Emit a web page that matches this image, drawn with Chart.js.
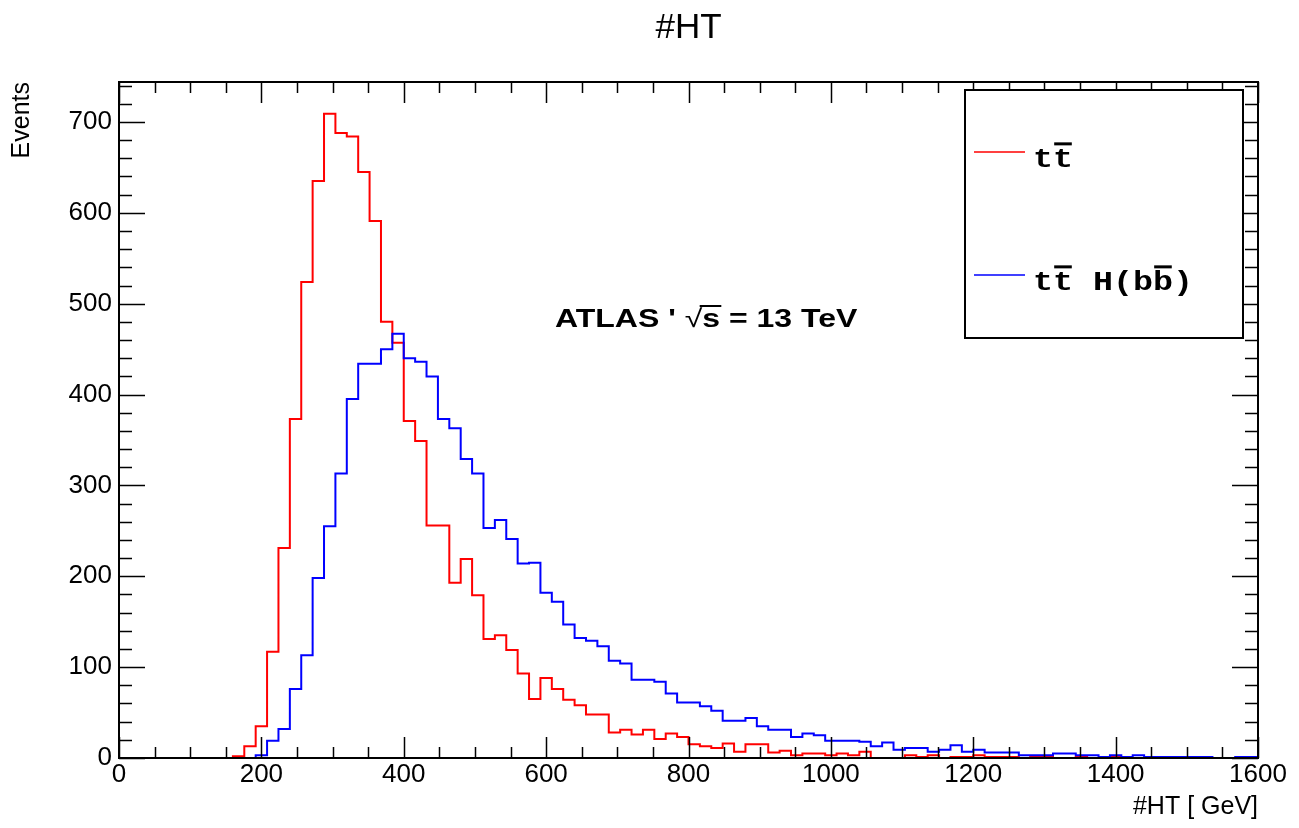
<!DOCTYPE html>
<html>
<head>
<meta charset="utf-8">
<script src="https://cdn.jsdelivr.net/npm/chart.js@4.4.0/dist/chart.umd.min.js"></script>
<style>
  html, body { margin: 0; padding: 0; background: #fff; }
</style>
</head>
<body>
<canvas id="ht-chart" width="1299" height="828"></canvas>
<script>
// histogram binning: 100 bins of 16 GeV from 0 to 1600
const binStart = 0;
const binWidth = 16;

const seriesNames = ['tt\u0304', 'tt\u0304 H(bb\u0304)'];
const seriesColors = ['#ff0000', '#0000ff'];

// tt (red)
const ttbar = [
    0, 0, 0, 0, 0, 0, 0, 0, 0, 0,
    2, 13, 35, 117, 231, 373, 524, 635, 709, 688,
    684, 645, 591, 480, 457, 371, 349, 256, 256, 193,
    219, 179, 131, 135, 119, 93, 65, 88, 76, 64,
    58, 48, 48, 28, 31, 26, 31, 21, 27, 23,
    15, 13, 11, 16, 7, 15, 15, 6, 8, 3,
    5, 5, 3, 5, 3, 7, 0, 0, 0, 3,
    1, 3, 0, 1, 1, 3, 1, 1, 1, 0,
    1, 1, 0, 0, 1, 0, 0, 1, 0, 0,
    0, 0, 0, 0, 1, 0, 0, 0, 0, 0
];

// ttH(bb) (blue)
const ttH = [
    0, 0, 0, 0, 0, 0, 0, 0, 0, 0,
    0, 0, 3, 19, 32, 76, 113, 198, 255, 313,
    395, 434, 434, 450, 467, 440, 436, 420, 373, 363,
    329, 313, 253, 262, 241, 214, 215, 182, 172, 147,
    132, 129, 123, 107, 104, 86, 86, 84, 71, 61,
    61, 57, 52, 41, 41, 44, 35, 31, 31, 23,
    27, 25, 19, 19, 19, 18, 13, 17, 9, 11,
    11, 7, 9, 14, 7, 9, 6, 6, 6, 3,
    3, 3, 5, 5, 3, 3, 1, 3, 1, 3,
    1, 1, 1, 1, 1, 1, 0, 0, 1, 1
];

const xTickValues = [0, 200, 400, 600, 800, 1000, 1200, 1400, 1600];
const yTickValues = [0, 100, 200, 300, 400, 500, 600, 700];
const xMax = 1600;
const yMax = 744;

// left bin edges + closing point, drawn as steps
function histPoints(counts) {
    const pts = counts.map((c, i) => ({x: binStart + i * binWidth, y: c}));
    pts.push({x: binStart + counts.length * binWidth, y: counts[counts.length - 1]});
    return pts;
}

// text with U+0304 drawn as a bar over the previous glyph
function drawBarText(ctx, text, x, y, size, sx) {
    ctx.save();
    ctx.translate(x, y);
    ctx.scale(sx, 1);
    let cx = 0, px = 0, pw = 0;
    for (const ch of text) {
        if (ch === '\u0304') {
            ctx.fillRect(px + 1, -size * 0.88, pw - 2, 3);
            continue;
        }
        ctx.fillText(ch, cx, 0);
        px = cx;
        pw = ctx.measureText(ch).width;
        cx += pw;
    }
    ctx.restore();
}

const rootFrame = {
    id: 'rootFrame',
    afterDatasetsDraw(chart) {
        const {ctx, chartArea: a, scales: {x, y}} = chart;
        ctx.save();
        ctx.strokeStyle = '#000';
        ctx.lineWidth = 1.5;
        ctx.beginPath();
        for (let v = 0; v <= xMax; v += 50) {
            const px = Math.round(x.getPixelForValue(v)) + 0.5;
            const len = v % 200 === 0 ? 21 : 11;
            ctx.moveTo(px, a.bottom); ctx.lineTo(px, a.bottom - len);
            ctx.moveTo(px, a.top); ctx.lineTo(px, a.top + len);
        }
        for (let v = 0; v <= yMax; v += 20) {
            const py = Math.round(y.getPixelForValue(v)) + 0.5;
            const len = v % 100 === 0 ? 26 : 13;
            ctx.moveTo(a.left, py); ctx.lineTo(a.left + len, py);
            ctx.moveTo(a.right, py); ctx.lineTo(a.right - len, py);
        }
        ctx.stroke();
        ctx.lineWidth = 2;
        ctx.strokeRect(a.left, a.top, a.right - a.left, a.bottom - a.top);

        // legend box
        ctx.fillStyle = '#fff';
        ctx.fillRect(965, 90, 278, 248);
        ctx.strokeRect(965, 90, 278, 248);
        const rows = [152, 275];
        ctx.font = 'bold 28px "Liberation Mono", monospace';
        ctx.textBaseline = 'alphabetic';
        rows.forEach((ly, i) => {
            ctx.strokeStyle = seriesColors[i];
            ctx.lineWidth = 1.5;
            ctx.beginPath();
            ctx.moveTo(974, ly); ctx.lineTo(1025, ly);
            ctx.stroke();
            ctx.fillStyle = '#000';
            drawBarText(ctx, seriesNames[i], 1033, ly + 15, 28, 1.19);
        });

        // ATLAS label
        ctx.fillStyle = '#000';
        ctx.font = 'bold 25px "Liberation Sans", Arial, sans-serif';
        ctx.save();
        ctx.translate(555, 327);
        ctx.scale(1.28, 1);
        const pre = "ATLAS ' ";
        ctx.fillText(pre, 0, 0);
        let cx = ctx.measureText(pre).width;
        ctx.font = '25px "Liberation Sans", Arial, sans-serif';
        ctx.fillText('\u221A', cx, 0);
        cx += ctx.measureText('\u221A').width;
        ctx.font = 'bold 25px "Liberation Sans", Arial, sans-serif';
        ctx.fillText('s', cx, 0);
        const sw = ctx.measureText('s').width;
        ctx.fillRect(cx - 2, -22, sw + 3, 2);
        cx += sw;
        ctx.fillText(' = 13 TeV', cx, 0);
        ctx.restore();
        ctx.restore();
    }
};

const font = '"Liberation Sans", Arial, Helvetica, sans-serif';

const htChart = new Chart(document.getElementById('ht-chart'), {
    type: 'line',
    data: {
        datasets: [{
            label: seriesNames[0],
            data: histPoints(ttbar),
            borderColor: seriesColors[0],
            borderWidth: 2,
            stepped: 'before',
            pointRadius: 0,
            fill: false,
            order: 1
        }, {
            label: seriesNames[1],
            data: histPoints(ttH),
            borderColor: seriesColors[1],
            borderWidth: 2,
            stepped: 'before',
            pointRadius: 0,
            fill: false,
            order: 0
        }]
    },
    options: {
        responsive: false,
        animation: false,
        layout: {
            padding: {left: 0, right: 41, top: 0, bottom: 0}
        },
        plugins: {
            legend: {display: false},
            tooltip: {enabled: false},
            title: {
                display: true,
                fullSize: false,
                text: '#HT',
                color: '#000',
                font: {family: font, size: 35, weight: 'normal'},
                padding: {top: 7.5, bottom: 32.5}
            }
        },
        scales: {
            x: {
                type: 'linear',
                min: 0,
                max: xMax,
                afterBuildTicks: scale => { scale.ticks = xTickValues.map(v => ({value: v})); },
                afterFit: scale => { scale.height = 70; },
                grid: {drawOnChartArea: false, drawTicks: false},
                border: {display: false},
                ticks: {
                    color: '#000', padding: 1, maxRotation: 0,
                    font: {family: font, size: 26},
                    callback: v => String(v)
                },
                title: {
                    display: true,
                    text: '#HT [ GeV]',
                    align: 'end',
                    color: '#000',
                    font: {family: font, size: 25},
                    padding: {top: 0, bottom: 6}
                }
            },
            y: {
                min: 0,
                max: yMax,
                afterBuildTicks: scale => { scale.ticks = yTickValues.map(v => ({value: v})); },
                afterFit: scale => { scale.width = 119; },
                grid: {drawOnChartArea: false, drawTicks: false},
                border: {display: false},
                ticks: {
                    color: '#000', padding: 7,
                    font: {family: font, size: 26},
                    callback: v => String(v)
                },
                title: {
                    display: true,
                    text: 'Events',
                    align: 'end',
                    color: '#000',
                    font: {family: font, size: 25},
                    padding: {top: 7, bottom: 0}
                }
            }
        }
    },
    plugins: [rootFrame]
});
</script>
</body>
</html>
